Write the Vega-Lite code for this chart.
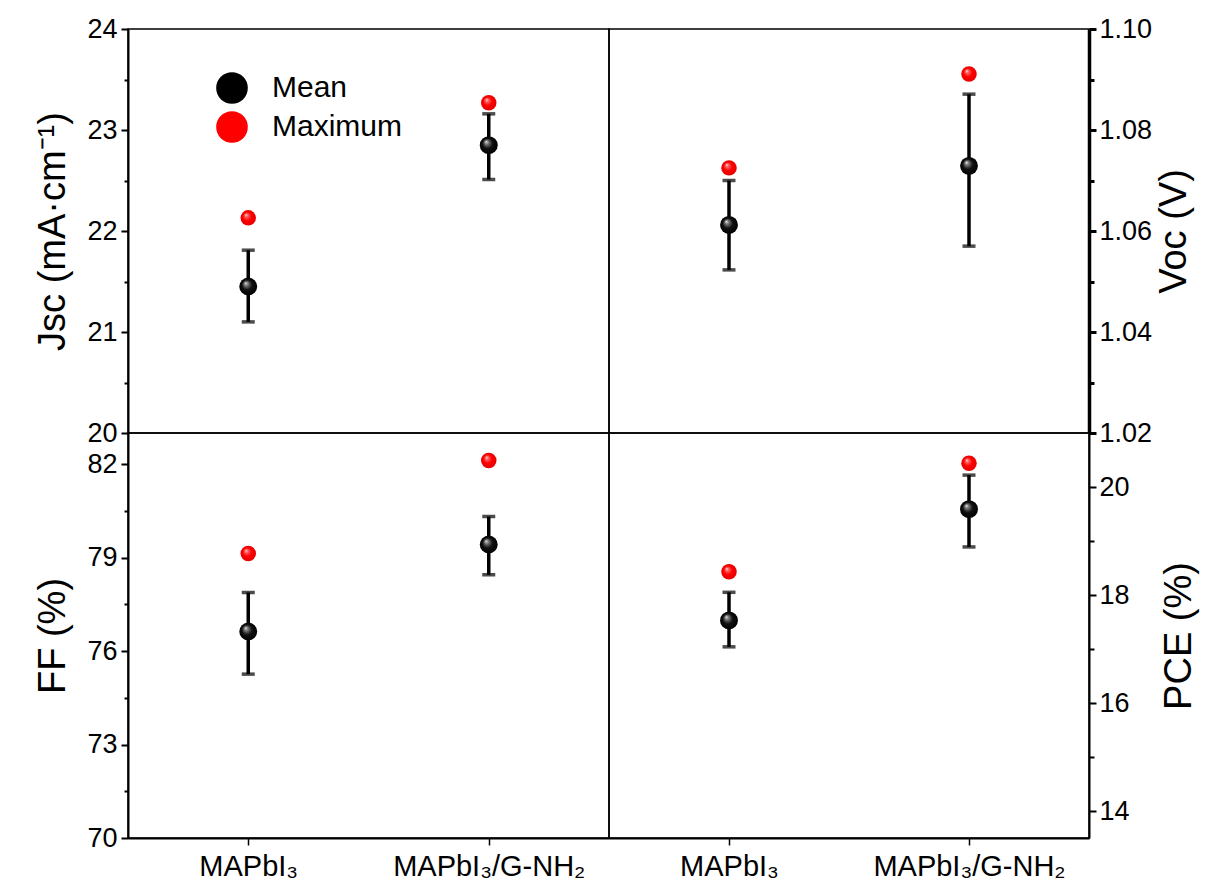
{
  "$schema": "https://vega.github.io/schema/vega-lite/v6.json",
  "padding": {"left": 34, "top": 14, "right": 5, "bottom": 5},
  "background": "white",
  "config": {
    "font": "Liberation Sans",
    "view": {"stroke": "black", "strokeWidth": 1.5},
    "axis": {
      "grid": false, "domainColor": "black", "domainWidth": 2, "tickColor": "black", "tickWidth": 2,
      "labelColor": "black", "titleColor": "black", "labelFont": "Liberation Sans", "titleFont": "Liberation Sans",
      "labelFontSize": 27, "titleFontSize": 38, "titleFontWeight": "normal", "labelOverlap": false, "labelFlush": false, "labelLimit": 0
    }
  },
  "data": {"values": [
    {"param": "Jsc", "sample": "MAPbI₃", "Mean": 21.45, "Maximum": 22.13, "lo": 21.10, "hi": 21.81},
    {"param": "Jsc", "sample": "MAPbI₃/G-NH₂", "Mean": 22.85, "Maximum": 23.27, "lo": 22.51, "hi": 23.16},
    {"param": "Voc", "sample": "MAPbI₃", "Mean": 1.0612, "Maximum": 1.0725, "lo": 1.0523, "hi": 1.0700},
    {"param": "Voc", "sample": "MAPbI₃/G-NH₂", "Mean": 1.0729, "Maximum": 1.0911, "lo": 1.0570, "hi": 1.0871},
    {"param": "FF", "sample": "MAPbI₃", "Mean": 76.63, "Maximum": 79.13, "lo": 75.26, "hi": 77.88},
    {"param": "FF", "sample": "MAPbI₃/G-NH₂", "Mean": 79.42, "Maximum": 82.12, "lo": 78.45, "hi": 80.32},
    {"param": "PCE", "sample": "MAPbI₃", "Mean": 17.53, "Maximum": 18.43, "lo": 17.04, "hi": 18.05},
    {"param": "PCE", "sample": "MAPbI₃/G-NH₂", "Mean": 19.59, "Maximum": 20.44, "lo": 18.89, "hi": 20.22}
  ]},
  "columns": 2,
  "spacing": 0,
  "bounds": "flush",
  "concat": [
    {
      "width": 481, "height": 404,
      "transform": [{"filter": "datum.param === 'Jsc'"}],
      "encoding": {"x": {"field": "sample", "type": "nominal", "sort": null, "scale": {"type": "point", "padding": 0.5, "domain": ["MAPbI₃", "MAPbI₃/G-NH₂"]}, "axis": null}},
      "layer": [
        {
          "mark": {"type": "errorbar", "ticks": {"size": 13, "thickness": 3.5, "color": "black"}, "rule": {"strokeWidth": 3.5, "color": "black"}},
          "encoding": {
            "y": {"field": "lo", "type": "quantitative", "scale": {"domain": [20, 24], "nice": false, "zero": false},
              "axis": {"orient": "left", "title": "Jsc (mA·cm⁻¹)", "values": [20, 20.5, 21, 21.5, 22, 22.5, 23, 23.5, 24],
                "labelExpr": "datum.value % 1 === 0 ? format(datum.value, 'd') : ''",
                "tickSize": {"condition": {"test": "datum.value % 1 !== 0", "value": 4}, "value": 7},
                "labelPadding": 4, "titlePadding": 14}},
            "y2": {"field": "hi"}
          }
        },
        {
          "transform": [{"fold": ["Mean", "Maximum"], "as": ["stat", "v"]}],
          "mark": {"type": "point", "filled": true, "opacity": 1, "strokeWidth": 0},
          "encoding": {
            "y": {"field": "v", "type": "quantitative", "scale": {"domain": [20, 24], "nice": false, "zero": false}},
            "fill": {"condition": {"test": "datum.stat === 'Mean'", "value": {"gradient": "radial", "x1": 0.35, "y1": 0.3, "r1": 0, "x2": 0.5, "y2": 0.5, "r2": 0.5, "stops": [{"offset": 0, "color": "#f0f0f0"}, {"offset": 0.2, "color": "#808080"}, {"offset": 0.55, "color": "#111111"}, {"offset": 1, "color": "#000000"}]}},
              "value": {"gradient": "radial", "x1": 0.35, "y1": 0.3, "r1": 0, "x2": 0.5, "y2": 0.5, "r2": 0.5, "stops": [{"offset": 0, "color": "#ffe6e6"}, {"offset": 0.2, "color": "#ff6666"}, {"offset": 0.55, "color": "#ff0000"}, {"offset": 1, "color": "#e60000"}]}},
            "size": {"condition": {"test": "datum.stat === 'Mean'", "value": 320}, "value": 240}
          }
        },
        {
          "transform": [{"fold": ["Mean", "Maximum"], "as": ["stat", "v"]}],
          "mark": {"type": "point", "filled": true, "opacity": 0},
          "encoding": {
            "y": {"field": "v", "type": "quantitative", "scale": {"domain": [20, 24], "nice": false, "zero": false}},
            "color": {"field": "stat", "type": "nominal", "scale": {"domain": ["Mean", "Maximum"], "range": ["black", "red"]},
              "legend": {"orient": "none", "legendX": 88, "legendY": 43, "title": null, "symbolSize": 1000, "symbolType": "circle",
                "symbolStrokeWidth": 0, "symbolOpacity": 1, "labelFontSize": 30, "labelFont": "Liberation Sans", "labelColor": "black",
                "labelOffset": 24, "rowPadding": 7,
                "encode": {"symbols": {"update": {
                  "fill": [{"test": "datum.value === 'Mean'", "value": {"gradient": "radial", "x1": 0.35, "y1": 0.3, "r1": 0, "x2": 0.5, "y2": 0.5, "r2": 0.5, "stops": [{"offset": 0, "color": "#f0f0f0"}, {"offset": 0.2, "color": "#808080"}, {"offset": 0.55, "color": "#111111"}, {"offset": 1, "color": "#000000"}]}},
                    {"value": {"gradient": "radial", "x1": 0.35, "y1": 0.3, "r1": 0, "x2": 0.5, "y2": 0.5, "r2": 0.5, "stops": [{"offset": 0, "color": "#ffe6e6"}, {"offset": 0.2, "color": "#ff6666"}, {"offset": 0.55, "color": "#ff0000"}, {"offset": 1, "color": "#e60000"}]}}],
                  "opacity": {"value": 1}}}}}}
          }
        }
      ]
    },
    {
      "width": 480, "height": 404,
      "transform": [{"filter": "datum.param === 'Voc'"}],
      "encoding": {"x": {"field": "sample", "type": "nominal", "sort": null, "scale": {"type": "point", "padding": 0.5, "domain": ["MAPbI₃", "MAPbI₃/G-NH₂"]}, "axis": null}},
      "layer": [
        {
          "mark": {"type": "errorbar", "ticks": {"size": 13, "thickness": 3.5, "color": "black"}, "rule": {"strokeWidth": 3.5, "color": "black"}},
          "encoding": {
            "y": {"field": "lo", "type": "quantitative", "scale": {"domain": [1.02, 1.10], "nice": false, "zero": false},
              "axis": {"orient": "right", "title": "Voc (V)", "titleAngle": 270, "values": [1.02, 1.03, 1.04, 1.05, 1.06, 1.07, 1.08, 1.09, 1.10],
                "labelExpr": "round(datum.value * 100) % 2 === 0 ? format(datum.value, '.2f') : ''",
                "tickSize": {"condition": {"test": "round(datum.value * 100) % 2 !== 0", "value": 5}, "value": 7},
                "domainWidth": 3.5, "tickWidth": 3, "labelPadding": 3, "titlePadding": 42}},
            "y2": {"field": "hi"}
          }
        },
        {
          "transform": [{"fold": ["Mean", "Maximum"], "as": ["stat", "v"]}],
          "mark": {"type": "point", "filled": true, "opacity": 1, "strokeWidth": 0},
          "encoding": {
            "y": {"field": "v", "type": "quantitative", "scale": {"domain": [1.02, 1.10], "nice": false, "zero": false}},
            "fill": {"condition": {"test": "datum.stat === 'Mean'", "value": {"gradient": "radial", "x1": 0.35, "y1": 0.3, "r1": 0, "x2": 0.5, "y2": 0.5, "r2": 0.5, "stops": [{"offset": 0, "color": "#f0f0f0"}, {"offset": 0.2, "color": "#808080"}, {"offset": 0.55, "color": "#111111"}, {"offset": 1, "color": "#000000"}]}},
              "value": {"gradient": "radial", "x1": 0.35, "y1": 0.3, "r1": 0, "x2": 0.5, "y2": 0.5, "r2": 0.5, "stops": [{"offset": 0, "color": "#ffe6e6"}, {"offset": 0.2, "color": "#ff6666"}, {"offset": 0.55, "color": "#ff0000"}, {"offset": 1, "color": "#e60000"}]}},
            "size": {"condition": {"test": "datum.stat === 'Mean'", "value": 320}, "value": 240}
          }
        }
      ]
    },
    {
      "width": 481, "height": 405,
      "transform": [{"filter": "datum.param === 'FF'"}],
      "encoding": {"x": {"field": "sample", "type": "nominal", "sort": null, "scale": {"type": "point", "padding": 0.5, "domain": ["MAPbI₃", "MAPbI₃/G-NH₂"]},
        "axis": {"orient": "bottom", "title": null, "labelAngle": 0, "tickSize": 7, "tickWidth": 1.5, "labelPadding": 7, "labelFontSize": 29, "labelLimit": 0}}},
      "layer": [
        {
          "mark": {"type": "errorbar", "ticks": {"size": 13, "thickness": 3.5, "color": "black"}, "rule": {"strokeWidth": 3.5, "color": "black"}},
          "encoding": {
            "y": {"field": "lo", "type": "quantitative", "scale": {"domain": [70, 83], "nice": false, "zero": false},
              "axis": {"orient": "left", "title": "FF (%)", "values": [70, 71.5, 73, 74.5, 76, 77.5, 79, 80.5, 82],
                "labelExpr": "(datum.value - 70) % 3 === 0 ? format(datum.value, 'd') : ''",
                "tickSize": {"condition": {"test": "(datum.value - 70) % 3 !== 0", "value": 4}, "value": 7},
                "labelPadding": 4, "titlePadding": 14}},
            "y2": {"field": "hi"}
          }
        },
        {
          "transform": [{"fold": ["Mean", "Maximum"], "as": ["stat", "v"]}],
          "mark": {"type": "point", "filled": true, "opacity": 1, "strokeWidth": 0},
          "encoding": {
            "y": {"field": "v", "type": "quantitative", "scale": {"domain": [70, 83], "nice": false, "zero": false}},
            "fill": {"condition": {"test": "datum.stat === 'Mean'", "value": {"gradient": "radial", "x1": 0.35, "y1": 0.3, "r1": 0, "x2": 0.5, "y2": 0.5, "r2": 0.5, "stops": [{"offset": 0, "color": "#f0f0f0"}, {"offset": 0.2, "color": "#808080"}, {"offset": 0.55, "color": "#111111"}, {"offset": 1, "color": "#000000"}]}},
              "value": {"gradient": "radial", "x1": 0.35, "y1": 0.3, "r1": 0, "x2": 0.5, "y2": 0.5, "r2": 0.5, "stops": [{"offset": 0, "color": "#ffe6e6"}, {"offset": 0.2, "color": "#ff6666"}, {"offset": 0.55, "color": "#ff0000"}, {"offset": 1, "color": "#e60000"}]}},
            "size": {"condition": {"test": "datum.stat === 'Mean'", "value": 320}, "value": 240}
          }
        }
      ]
    },
    {
      "width": 480, "height": 405,
      "transform": [{"filter": "datum.param === 'PCE'"}],
      "encoding": {"x": {"field": "sample", "type": "nominal", "sort": null, "scale": {"type": "point", "padding": 0.5, "domain": ["MAPbI₃", "MAPbI₃/G-NH₂"]},
        "axis": {"orient": "bottom", "title": null, "labelAngle": 0, "tickSize": 7, "tickWidth": 1.5, "labelPadding": 7, "labelFontSize": 29, "labelLimit": 0}}},
      "layer": [
        {
          "mark": {"type": "errorbar", "ticks": {"size": 13, "thickness": 3.5, "color": "black"}, "rule": {"strokeWidth": 3.5, "color": "black"}},
          "encoding": {
            "y": {"field": "lo", "type": "quantitative", "scale": {"domain": [13.5, 21], "nice": false, "zero": false},
              "axis": {"orient": "right", "title": "PCE (%)", "titleAngle": 270, "values": [14, 15, 16, 17, 18, 19, 20],
                "labelExpr": "datum.value % 2 === 0 ? format(datum.value, 'd') : ''",
                "tickSize": {"condition": {"test": "datum.value % 2 !== 0", "value": 5}, "value": 7},
                "labelPadding": 3, "titlePadding": 69}},
            "y2": {"field": "hi"}
          }
        },
        {
          "transform": [{"fold": ["Mean", "Maximum"], "as": ["stat", "v"]}],
          "mark": {"type": "point", "filled": true, "opacity": 1, "strokeWidth": 0},
          "encoding": {
            "y": {"field": "v", "type": "quantitative", "scale": {"domain": [13.5, 21], "nice": false, "zero": false}},
            "fill": {"condition": {"test": "datum.stat === 'Mean'", "value": {"gradient": "radial", "x1": 0.35, "y1": 0.3, "r1": 0, "x2": 0.5, "y2": 0.5, "r2": 0.5, "stops": [{"offset": 0, "color": "#f0f0f0"}, {"offset": 0.2, "color": "#808080"}, {"offset": 0.55, "color": "#111111"}, {"offset": 1, "color": "#000000"}]}},
              "value": {"gradient": "radial", "x1": 0.35, "y1": 0.3, "r1": 0, "x2": 0.5, "y2": 0.5, "r2": 0.5, "stops": [{"offset": 0, "color": "#ffe6e6"}, {"offset": 0.2, "color": "#ff6666"}, {"offset": 0.55, "color": "#ff0000"}, {"offset": 1, "color": "#e60000"}]}},
            "size": {"condition": {"test": "datum.stat === 'Mean'", "value": 320}, "value": 240}
          }
        }
      ]
    }
  ]
}
